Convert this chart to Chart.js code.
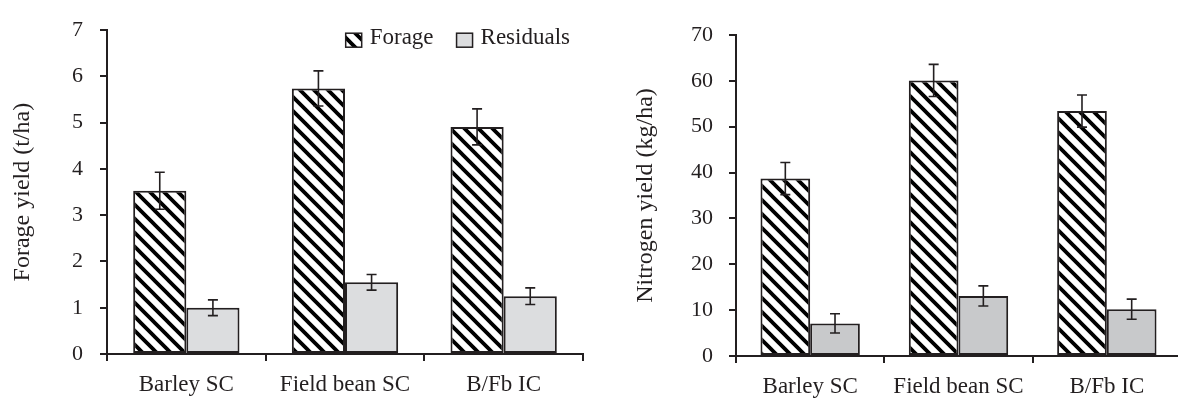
<!DOCTYPE html>
<html><head><meta charset="utf-8">
<script src="https://cdn.jsdelivr.net/npm/chart.js@4.4.1/dist/chart.umd.min.js"></script>
<style>
html,body{margin:0;padding:0;background:#fff;overflow:hidden;width:1178px;height:400px;position:relative;}
#c1{position:absolute;left:0;top:0;}
#c2{position:absolute;left:590px;top:0;}
</style></head><body>
<canvas id="c1" width="590" height="400"></canvas>
<canvas id="c2" width="600" height="400"></canvas>
<script>
const categories = ['Barley SC', 'Field bean SC', 'B/Fb IC'];
const seriesNames = ['Forage', 'Residuals'];
const forageYield = [3.53, 5.74, 4.91];
const forageYieldErr = [0.40, 0.38, 0.39];
const residualYield = [1.00, 1.55, 1.25];
const residualYieldErr = [0.17, 0.17, 0.18];
const forageN = [38.7, 60.1, 53.4];
const forageNErr = [3.5, 3.5, 3.5];
const residualN = [7.1, 13.1, 10.2];
const residualNErr = [2.1, 2.2, 2.2];
const leftAxisTitle = 'Forage yield (t/ha)';
const rightAxisTitle = 'Nitrogen yield (kg/ha)';
const leftYMax = 7, leftYStep = 1;
const rightYMax = 70, rightYStep = 10;

const INK = '#231f20';
const FONT = '"Liberation Serif", "Times New Roman", serif';

function makeHatch() {
  const s = 14;
  const c = document.createElement('canvas');
  c.width = s; c.height = s;
  const g = c.getContext('2d');
  g.fillStyle = '#fff'; g.fillRect(0, 0, s, s);
  g.strokeStyle = '#000'; g.lineWidth = 3.8;
  g.beginPath();
  for (const k of [-1, 0, 1]) { g.moveTo(k * s - 2, -2); g.lineTo(k * s + s + 2, s + 2); }
  g.stroke();
  return g.createPattern(c, 'repeat');
}
const hatch = makeHatch();

const errorBarPlugin = {
  id: 'errorBars',
  afterDatasetsDraw(chart) {
    const ctx = chart.ctx, y = chart.scales.y;
    chart.data.datasets.forEach((ds, di) => {
      const meta = chart.getDatasetMeta(di);
      meta.data.forEach((bar, i) => {
        const v = ds.data[i], e = ds.errors[i];
        const yt = y.getPixelForValue(v + e), yb = y.getPixelForValue(v - e);
        ctx.save();
        ctx.strokeStyle = INK; ctx.lineWidth = 1.6;
        ctx.beginPath();
        ctx.moveTo(bar.x, yt); ctx.lineTo(bar.x, yb);
        ctx.moveTo(bar.x - 5, yt); ctx.lineTo(bar.x + 5, yt);
        ctx.moveTo(bar.x - 5, yb); ctx.lineTo(bar.x + 5, yb);
        ctx.stroke();
        ctx.restore();
      });
    });
  }
};

const innerLegendPlugin = {
  id: 'innerLegend',
  afterDraw(chart) {
    const ctx = chart.ctx, ca = chart.chartArea;
    ctx.save();
    ctx.font = '23px ' + FONT;
    ctx.textBaseline = 'middle';
    ctx.fillStyle = INK;
    let x = ca.right - 13;
    const yc = ca.top + 8;
    const dss = chart.data.datasets;
    for (let i = dss.length - 1; i >= 0; i--) {
      const ds = dss[i];
      const w = ctx.measureText(ds.label).width;
      x -= w;
      ctx.fillStyle = INK;
      ctx.fillText(ds.label, x, yc);
      x -= 8 + 16;
      ctx.fillStyle = ds.backgroundColor;
      ctx.fillRect(x, ca.top + 3, 16, 14);
      ctx.strokeStyle = INK; ctx.lineWidth = 1.5;
      ctx.strokeRect(x, ca.top + 3, 16, 14);
      x -= 23;
    }
    ctx.restore();
  }
};

function makeChart(id, opts) {
  return new Chart(document.getElementById(id), {
    type: 'bar',
    data: {
      labels: categories,
      datasets: [
        { label: seriesNames[0], data: opts.a, errors: opts.aErr, backgroundColor: hatch,
          borderColor: INK, borderWidth: 2, borderSkipped: false,
          categoryPercentage: 0.67, barPercentage: 1.0 },
        { label: seriesNames[1], data: opts.b, errors: opts.bErr, backgroundColor: opts.resColor,
          borderColor: INK, borderWidth: 2, borderSkipped: false,
          categoryPercentage: 0.67, barPercentage: 1.0 }
      ]
    },
    options: {
      responsive: false,
      animation: false,
      layout: { padding: opts.padding },
      plugins: { legend: { display: false }, tooltip: { enabled: false } },
      scales: {
        x: {
          offset: true,
          grid: { offset: true, drawOnChartArea: false, drawTicks: true, tickLength: 7, color: INK, lineWidth: 2 },
          border: { color: INK, width: 2 },
          ticks: { color: INK, font: { family: FONT, size: 23 }, padding: 10, maxRotation: 0 },
          afterFit(s) { s.height = opts.xHeight; }
        },
        y: {
          min: 0, max: opts.max,
          ticks: { stepSize: opts.step, color: INK, font: { family: FONT, size: 22 }, padding: opts.tickPad },
          grid: { drawOnChartArea: false, drawTicks: true, tickLength: 7, color: INK, lineWidth: 2 },
          border: { color: INK, width: 2 },
          title: { display: true, text: opts.title, color: INK, font: { family: FONT, size: 24 }, padding: { top: 8, bottom: 0 } },
          afterFit(s) { s.width = opts.yWidth; }
        }
      }
    },
    plugins: opts.legend ? [errorBarPlugin, innerLegendPlugin] : [errorBarPlugin]
  });
}

makeChart('c1', {
  a: forageYield, aErr: forageYieldErr, b: residualYield, bErr: residualYieldErr,
  resColor: '#dcdddf', max: leftYMax, step: leftYStep, title: leftAxisTitle,
  padding: { left: 0, top: 24, right: 7, bottom: 0 }, xHeight: 46, yWidth: 107, tickPad: 17, legend: true
});
makeChart('c2', {
  a: forageN, aErr: forageNErr, b: residualN, bErr: residualNErr,
  resColor: '#c8c9cb', max: rightYMax, step: rightYStep, title: rightAxisTitle,
  padding: { left: 33, top: 35, right: 9, bottom: 0 }, xHeight: 44, yWidth: 113, tickPad: 16, legend: false
});
</script>
</body></html>
